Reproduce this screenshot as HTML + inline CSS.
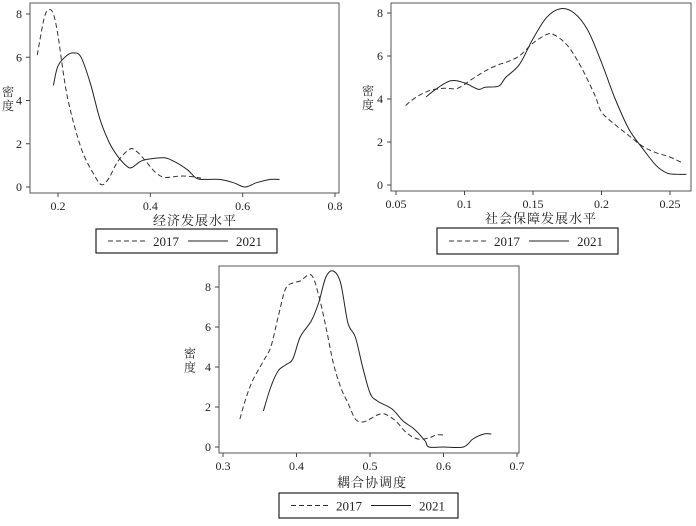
<!DOCTYPE html>
<html><head><meta charset="utf-8">
<style>
body{margin:0;background:#fff;width:696px;height:521px;overflow:hidden}
svg text{font-family:"Liberation Serif","Noto Serif CJK SC",serif;fill:#222}
</style></head>
<body>
<svg id="s" width="696" height="521"></svg>
<script>
// Chart 1: 经济发展水平
const c1x17=[0.155,0.17,0.18,0.19,0.2,0.22,0.25,0.28,0.295,0.31,0.33,0.355,0.37,0.39,0.41,0.43,0.46,0.48,0.5,0.51];
const c1y17=[6.1,7.8,8.2,8.0,7.0,4.2,1.8,0.5,0.1,0.4,1.2,1.75,1.65,1.2,0.7,0.45,0.5,0.5,0.45,0.4];
const c1x21=[0.19,0.2,0.22,0.235,0.25,0.27,0.29,0.31,0.33,0.35,0.36,0.38,0.4,0.43,0.45,0.48,0.5,0.52,0.55,0.58,0.605,0.63,0.66,0.68];
const c1y21=[4.7,5.6,6.1,6.2,6.0,4.8,3.2,2.1,1.4,0.95,0.9,1.2,1.3,1.35,1.2,0.8,0.4,0.35,0.35,0.2,0.0,0.2,0.35,0.35];
const c1xt=[0.2,0.4,0.6,0.8];
const c1yt=[0,2,4,6,8];
// Chart 2: 社会保障发展水平
const c2x17=[0.057,0.065,0.075,0.085,0.095,0.105,0.115,0.125,0.13,0.14,0.15,0.16,0.165,0.175,0.185,0.195,0.2,0.21,0.22,0.23,0.24,0.25,0.26];
const c2y17=[3.7,4.1,4.4,4.5,4.5,4.9,5.3,5.6,5.7,6.0,6.6,7.0,7.0,6.5,5.5,4.2,3.4,2.8,2.3,1.8,1.5,1.3,1.0];
const c2x21=[0.072,0.08,0.09,0.1,0.11,0.115,0.125,0.13,0.14,0.15,0.16,0.17,0.18,0.19,0.2,0.21,0.22,0.23,0.24,0.248,0.255,0.262];
const c2y21=[4.1,4.5,4.85,4.75,4.45,4.55,4.6,5.0,5.6,6.8,7.8,8.2,8.0,7.2,5.7,4.0,2.6,1.7,0.9,0.55,0.5,0.5];
const c2xt=[0.05,0.1,0.15,0.2,0.25];
const c2xl=["0.05","0.1","0.15","0.2","0.25"];
const c2yt=[0,2,4,6,8];
// Chart 3: 耦合协调度
const c3x17=[0.323,0.33,0.34,0.355,0.365,0.375,0.385,0.395,0.405,0.42,0.43,0.44,0.45,0.46,0.47,0.48,0.49,0.5,0.51,0.52,0.535,0.55,0.565,0.58,0.59,0.6];
const c3y17=[1.4,2.3,3.3,4.3,5.0,6.5,7.9,8.2,8.3,8.6,7.6,6.0,4.2,3.0,2.2,1.4,1.25,1.4,1.6,1.65,1.3,0.7,0.4,0.45,0.6,0.6];
const c3x21=[0.355,0.365,0.375,0.385,0.395,0.405,0.42,0.43,0.44,0.45,0.46,0.47,0.48,0.49,0.5,0.51,0.53,0.545,0.56,0.575,0.58,0.6,0.627,0.64,0.655,0.665];
const c3y21=[1.8,3.0,3.8,4.1,4.4,5.5,6.3,7.2,8.5,8.8,8.2,6.2,5.5,4.0,2.7,2.3,1.9,1.3,0.9,0.3,0,0,0,0.4,0.65,0.65];
const c3xt=[0.3,0.4,0.5,0.6,0.7];
const c3yt=[0,2,4,6,8];

const svg=document.getElementById('s');
const NS='http://www.w3.org/2000/svg';
function mk(t,a,p){const e=document.createElementNS(NS,t);for(const k in a)e.setAttribute(k,a[k]);(p||svg).appendChild(e);return e;}
function smooth(pts){let d='M'+pts[0][0].toFixed(1)+','+pts[0][1].toFixed(1);
 for(let i=0;i<pts.length-1;i++){const p0=pts[i-1]||pts[i],p1=pts[i],p2=pts[i+1],p3=pts[i+2]||p2;
  const c1=[p1[0]+(p2[0]-p0[0])/6,p1[1]+(p2[1]-p0[1])/6],c2=[p2[0]-(p3[0]-p1[0])/6,p2[1]-(p3[1]-p1[1])/6];
  d+='C'+c1[0].toFixed(1)+','+c1[1].toFixed(1)+' '+c2[0].toFixed(1)+','+c2[1].toFixed(1)+' '+p2[0].toFixed(1)+','+p2[1].toFixed(1);}
 return d;}
function chart(o){
 const g=mk('g',{});
 
 
 const X=v=>o.px0+(v-o.x0)*(o.px1-o.px0)/(o.x1-o.x0);
 const Y=v=>o.py0+(v-0)*(o.py8-o.py0)/8;
 const box=mk('rect',{x:o.L,y:o.T,width:o.R-o.L,height:o.B-o.T,fill:'none',stroke:'#555','stroke-width':1},g);
 
 
 o.xt.forEach((v,i)=>{const x=X(v);
  mk('line',{x1:x,y1:o.B,x2:x,y2:o.B+4,stroke:'#444'},g);
  const t=mk('text',{x:x,y:o.B+17,'font-size':12,'text-anchor':'middle'},g);t.textContent=o.xl?o.xl[i]:String(v);
  
  });
 o.yt.forEach(v=>{const y=Y(v);
  mk('line',{x1:o.L-4,y1:y,x2:o.L,y2:y,stroke:'#444'},g);
  const t=mk('text',{x:o.L-8,y:y+4,'font-size':12,'text-anchor':'end'},g);t.textContent=String(v);
  
  });
 const yl=mk('text',{x:o.yx,y:(o.T+o.B)/2-2,'font-size':12,'text-anchor':'middle'},g);
 yl.innerHTML='<tspan x="'+o.yx+'" dy="0">密</tspan><tspan x="'+o.yx+'" dy="14">度</tspan>';
 
 
 const xl=mk('text',{x:o.xlx,y:o.xly,'font-size':13,'text-anchor':'middle','letter-spacing':'1'},g);xl.textContent=o.title;
 
 
 const l17=mk('path',{d:smooth(o.x17.map((v,i)=>[X(v),Y(o.y17[i])])),fill:'none',stroke:'#333','stroke-width':1,'stroke-dasharray':'5,3'},g);
 
 
 const l21=mk('path',{d:smooth(o.x21.map((v,i)=>[X(v),Y(o.y21[i])])),fill:'none',stroke:'#222','stroke-width':1},g);
 
 
 const lg=mk('g',{},g);
 
 
 mk('rect',{x:o.lg[0],y:o.lg[1],width:o.lg[2],height:o.lg[3],fill:'#fff',stroke:'#222','stroke-width':1.2},lg);
 const cy=o.lg[1]+o.lg[3]/2, lx=o.lg[0];
 mk('line',{x1:lx+12,y1:cy,x2:lx+52,y2:cy,stroke:'#333','stroke-dasharray':'5,3'},lg);
 const t1=mk('text',{x:lx+57,y:cy+5,'font-size':13},lg);t1.textContent='2017';
 
 
 mk('line',{x1:lx+92,y1:cy,x2:lx+132,y2:cy,stroke:'#222'},lg);
 const t2=mk('text',{x:lx+140,y:cy+5,'font-size':13},lg);t2.textContent='2021';
 
 
}
chart({name:'chart-economic-development',L:30,T:3,R:339,B:193,x0:0.2,x1:0.8,px0:58,px1:335,py0:187,py8:14,
 xt:c1xt,yt:c1yt,x17:c1x17,y17:c1y17,x21:c1x21,y21:c1y21,yx:8,title:'经济发展水平',xlx:195,xly:225,lg:[96,229,181,24]});
chart({name:'chart-social-security',L:391,T:3,R:691,B:191,x0:0.05,x1:0.25,px0:396,px1:670,py0:185,py8:13,
 xt:c2xt,xl:c2xl,yt:c2yt,x17:c2x17,y17:c2y17,x21:c2x21,y21:c2y21,yx:368,title:'社会保障发展水平',xlx:541,xly:223,lg:[437,228,181,26]});
chart({name:'chart-coupling-coordination',L:219,T:266,R:519,B:453,x0:0.3,x1:0.7,px0:223,px1:517,py0:447,py8:287,
 xt:c3xt,yt:c3yt,x17:c3x17,y17:c3y17,x21:c3x21,y21:c3y21,yx:190,title:'耦合协调度',xlx:372,xly:487,lg:[279,493,179,25]});
</script>
</body></html>
